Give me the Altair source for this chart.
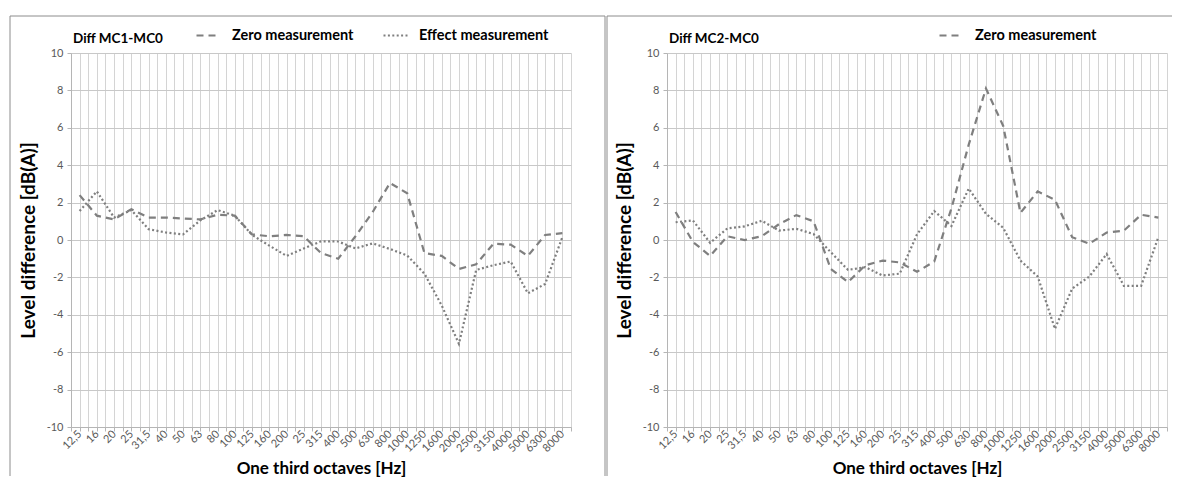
import json
import altair as alt
import pandas as pd

# ---------------- data ----------------
bands = ["12,5", "16", "20", "25", "31,5", "40", "50", "63", "80", "100",
         "125", "160", "200", "25", "315", "400", "500", "630", "800", "1000",
         "1250", "1600", "2000", "2500", "3150", "4000", "5000", "6300", "8000"]

mc1_zero = [2.4, 1.3, 1.1, 1.65, 1.2, 1.2, 1.15, 1.1, 1.35, 1.3,
            0.3, 0.2, 0.27, 0.2, -0.7, -1.0, 0.2, 1.5, 3.05, 2.5,
            -0.7, -0.85, -1.55, -1.3, -0.2, -0.25, -0.85, 0.27, 0.37]
mc1_effect = [1.55, 2.6, 1.2, 1.6, 0.58, 0.4, 0.3, 1.05, 1.6, 1.3,
              0.27, -0.3, -0.85, -0.45, -0.07, -0.08, -0.45, -0.18, -0.48, -0.83,
              -1.8, -3.5, -5.55, -1.6, -1.35, -1.15, -2.85, -2.35, 0.15]
mc2_zero = [1.5, -0.1, -0.85, 0.2, 0.0, 0.2, 0.85, 1.33, 1.0, -1.55,
            -2.25, -1.35, -1.1, -1.2, -1.7, -1.15, 1.7, 5.1, 8.1, 6.1,
            1.45, 2.6, 2.15, 0.15, -0.2, 0.4, 0.5, 1.35, 1.2]
mc2_effect = [0.95, 1.05, -0.15, 0.62, 0.73, 1.03, 0.5, 0.6, 0.32, -0.65,
              -1.6, -1.45, -1.9, -1.8, 0.3, 1.55, 0.75, 2.75, 1.4, 0.65,
              -1.1, -1.95, -4.75, -2.6, -1.95, -0.75, -2.45, -2.45, 0.15]

series_names = ["Zero measurement", "Effect measurement"]
panel_titles = ["Diff MC1-MC0", "Diff MC2-MC0"]
y_ticks = list(range(-10, 11, 2))

FONT = "Lato"
LINE = "#7f7f7f"
W, H = 500, 374

# grid / tick positions at every category centre and boundary
half_steps = [k * 0.5 - 0.5 for k in range(2 * len(bands) + 1)]
label_expr = ("datum.value % 1 === 0 ? " + json.dumps(bands) +
              "[datum.value] : ''")
y_label_expr = "datum.value < 0 ? '-' + abs(datum.value) : '' + datum.value"


def long_df(zero, effect):
    rows = []
    for name, vals in zip(series_names, [zero, effect]):
        for i, v in enumerate(vals):
            rows.append({"idx": i, "band": bands[i], "series": name, "value": v})
    return pd.DataFrame(rows)


def panel(title, zero, effect, legend_x, legend_values, left_frame, right_frame):
    df = long_df(zero, effect)
    one = pd.DataFrame({"title": [title]})

    lines = alt.Chart(df).mark_line(color=LINE, strokeWidth=2.2).encode(
        x=alt.X("idx:Q",
                scale=alt.Scale(domain=[-0.5, len(bands) - 0.5], nice=False, zero=False),
                axis=alt.Axis(values=half_steps, labelExpr=label_expr, grid=True,
                              gridColor="#d4d4d4", gridWidth=1,
                              domainColor="#b5b5b5", tickColor="#b5b5b5", tickSize=4,
                              labelAngle=315, labelAlign="right", labelBaseline="middle",
                              labelPadding=1, labelOverlap=False, labelFlush=False,
                              labelFont=FONT, labelFontSize=11, labelColor="#595959",
                              title="One third octaves [Hz]", titleFont=FONT,
                              titleFontSize=17, titleFontWeight="bold", titleColor="#000000",
                              titleX=W / 2, titleY=41, titleBaseline="middle",
                              titleAlign="center")),
        y=alt.Y("value:Q",
                scale=alt.Scale(domain=[-10, 10], nice=False),
                axis=alt.Axis(values=y_ticks, labelExpr=y_label_expr, grid=True,
                              gridColor="#c8c8c8",
                              domainColor="#b5b5b5", tickColor="#b5b5b5", tickSize=4,
                              labelPadding=4, labelFont=FONT, labelFontSize=11,
                              labelColor="#595959",
                              title="Level difference [dB(A)]", titleFont=FONT,
                              titleFontSize=19, titleFontWeight="bold", titleColor="#000000",
                              titleAngle=270, titleX=-43, titleY=H / 2,
                              titleAlign="center", titleBaseline="middle")),
        strokeDash=alt.StrokeDash(
            "series:N", title=None,
            scale=alt.Scale(domain=series_names, range=[[7, 5], [2, 2.4]]),
            legend=alt.Legend(orient="none", legendX=legend_x, legendY=-31,
                              direction="horizontal", values=legend_values,
                              symbolType="stroke", symbolSize=576,
                              symbolStrokeWidth=2.2, symbolStrokeColor=LINE,
                              labelFont=FONT, labelFontSize=14.5, labelFontWeight="bold",
                              labelColor="#000000", labelOffset=10, columnPadding=25)),
        detail="series:N",
    )

    title_text = alt.Chart(one).mark_text(
        align="left", baseline="middle", font=FONT, fontSize=13.5,
        fontWeight="bold", color="#000000"
    ).encode(x=alt.value(2), y=alt.value(-14), text="title:N")

    frame_style = dict(color="#8c8c8c", strokeWidth=1)
    top = alt.Chart(one).mark_rule(**frame_style).encode(
        x=alt.value(left_frame), x2=alt.value(right_frame), y=alt.value(-37))
    lft = alt.Chart(one).mark_rule(**frame_style).encode(
        x=alt.value(left_frame), y=alt.value(-37), y2=alt.value(H + 49))
    rgt = alt.Chart(one).mark_rule(**frame_style).encode(
        x=alt.value(right_frame), y=alt.value(-37), y2=alt.value(H + 49))

    return alt.layer(top, lft, rgt, lines, title_text).properties(width=W, height=H)


left = panel(panel_titles[0], mc1_zero, mc1_effect, 124, series_names, -61, 534)
right = panel(panel_titles[1], mc2_zero, mc2_effect, 271, [series_names[0]], -60, 520)

chart = alt.hconcat(left, right, spacing=0).resolve_scale(
    strokeDash="independent"
).resolve_legend(
    strokeDash="independent"
).configure_view(
    strokeWidth=0
).properties(
    padding={"left": 1, "top": 7, "right": -16, "bottom": 0},
    background="#ffffff",
)

chart.save("out.html", embed_options={"renderer": "svg", "actions": False})
